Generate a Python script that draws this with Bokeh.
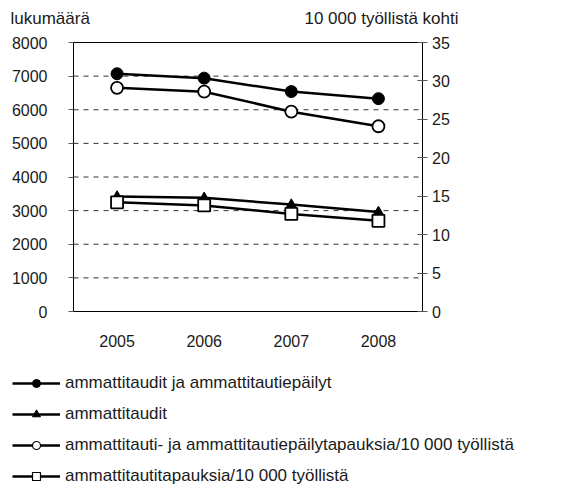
from bokeh.plotting import figure
from bokeh.models import (Range1d, LinearAxis, FixedTicker, Legend, LegendItem, Label)
from bokeh.embed import file_html
from bokeh.resources import INLINE

years = [2005, 2006, 2007, 2008]
# left axis (lukumäärä)
ammattitaudit_ja_epailyt = [7070, 6940, 6540, 6330]
ammattitaudit = [3420, 3380, 3180, 2960]
# right axis (10 000 työllistä kohti)
epailyt_per_10000 = [29.1, 28.6, 26.0, 24.1]
ammattitaudit_per_10000 = [14.2, 13.8, 12.7, 11.8]

left_ticks = [0, 1000, 2000, 3000, 4000, 5000, 6000, 7000, 8000]
right_ticks = [0, 5, 10, 15, 20, 25, 30, 35]
grid_ticks = left_ticks[1:-1]

labels = [
    "ammattitaudit ja ammattitautiepäilyt",
    "ammattitaudit",
    "ammattitauti- ja ammattitautiepäilytapauksia/10 000 työllistä",
    "ammattitautitapauksia/10 000 työllistä",
]

FONT = "Liberation Sans"
TXT = "#1a1a1a"

# canvas / plotting-area geometry (pixels)
W, H = 563, 489
PL, PR, PT, PB = 73.0, 421.5, 42.0, 311.0
X0, X1 = years[0] - 0.5, years[-1] + 0.5
LMAX, RMAX = left_ticks[-1], right_ticks[-1]

px_per_year = (PR - PL) / (X1 - X0)
x_start = X0 - PL / px_per_year
x_end = X1 + (W - PR) / px_per_year


def yrange(top):
    ppu = (PB - PT) / top
    return Range1d(-(H - PB) / ppu, top + PT / ppu)


p = figure(width=W, height=H,
           x_range=Range1d(x_start, x_end), y_range=yrange(LMAX),
           min_border=0, min_border_left=0, min_border_right=0,
           min_border_top=0, min_border_bottom=0,
           x_axis_type=None, y_axis_type=None,
           output_backend="svg", toolbar_location=None,
           background_fill_color="white", border_fill_color="white")
p.extra_y_ranges = {"right": yrange(RMAX)}
p.outline_line_color = None
p.xgrid.visible = False
p.ygrid.visible = False

# x axis at y = 0
xa = LinearAxis(ticker=FixedTicker(ticks=years), fixed_location=0,
                bounds=(X0, X1))
xa.major_tick_line_color = None
xa.minor_tick_line_color = None
xa.axis_line_color = "black"
xa.axis_line_width = 1
xa.major_label_standoff = 17
xa.major_label_text_font = FONT
xa.major_label_text_font_size = "16px"
xa.major_label_text_color = TXT
p.add_layout(xa, "below")

# left axis
ya = LinearAxis(ticker=FixedTicker(ticks=left_ticks), fixed_location=X0,
                bounds=(0, LMAX))
ya.major_tick_in = 0
ya.major_tick_out = 5
ya.minor_tick_line_color = None
ya.axis_line_color = "black"
ya.major_tick_line_color = "#555555"
ya.major_label_standoff = 21
ya.major_label_text_font = FONT
ya.major_label_text_font_size = "16px"
ya.major_label_text_color = TXT
p.add_layout(ya, "left")

# right axis
ra = LinearAxis(y_range_name="right", ticker=FixedTicker(ticks=right_ticks),
                fixed_location=X1, bounds=(0, RMAX))
ra.major_tick_in = 5
ra.major_tick_out = 5
ra.minor_tick_line_color = None
ra.axis_line_color = "black"
ra.major_tick_line_color = "#555555"
ra.major_label_standoff = 5
ra.major_label_text_font = FONT
ra.major_label_text_font_size = "16px"
ra.major_label_text_color = TXT
p.add_layout(ra, "right")

# dashed grid lines and solid top border
p.segment(x0=[X0] * len(grid_ticks), y0=grid_ticks,
          x1=[X1] * len(grid_ticks), y1=grid_ticks,
          line_color="#333333", line_dash="5 5", line_width=1)
p.segment(x0=[X0], y0=[LMAX], x1=[X1], y1=[LMAX],
          line_color="black", line_width=1)

LW = 2.5
l1 = p.line(years, ammattitaudit_ja_epailyt, line_color="black", line_width=LW)
l2 = p.line(years, ammattitaudit, line_color="black", line_width=LW)
l4 = p.line(years, ammattitaudit_per_10000, line_color="black", line_width=LW,
            y_range_name="right")
l3 = p.line(years, epailyt_per_10000, line_color="black", line_width=LW,
            y_range_name="right")

# smaller marker glyphs used by the legend (hidden below the plot markers)
LS = 7.5
g2 = p.scatter(years, ammattitaudit, marker="triangle", size=LS + 0.5,
               fill_color="black", line_color="black")
g4 = p.scatter(years, ammattitaudit_per_10000, marker="square", size=LS,
               fill_color="white", line_color="black", line_width=1.2,
               y_range_name="right")
g1 = p.scatter(years, ammattitaudit_ja_epailyt, marker="circle", size=LS + 0.5,
               fill_color="black", line_color="black")
g3 = p.scatter(years, epailyt_per_10000, marker="circle", size=LS,
               fill_color="white", line_color="black", line_width=1.2,
               y_range_name="right")

m2 = p.scatter(years, ammattitaudit, marker="triangle", size=10,
               fill_color="black", line_color="black")
m4 = p.scatter(years, ammattitaudit_per_10000, marker="square", size=12,
               fill_color="white", line_color="black", line_width=1.8,
               y_range_name="right")
m1 = p.scatter(years, ammattitaudit_ja_epailyt, marker="circle", size=12,
               fill_color="black", line_color="black")
m3 = p.scatter(years, epailyt_per_10000, marker="circle", size=12,
               fill_color="white", line_color="black", line_width=1.8,
               y_range_name="right")

legend = Legend(items=[
    LegendItem(label=labels[0], renderers=[l1, g1]),
    LegendItem(label=labels[1], renderers=[l2, g2]),
    LegendItem(label=labels[2], renderers=[l3, g3]),
    LegendItem(label=labels[3], renderers=[l4, g4]),
], location=(12, H - 486))
legend.glyph_width = 48
legend.glyph_height = 20
legend.label_height = 20
legend.spacing = 11
legend.padding = 0
legend.margin = 0
legend.label_standoff = 5
legend.border_line_color = None
legend.background_fill_alpha = 0
legend.label_text_font = FONT
legend.label_text_font_size = "17px"
legend.label_text_color = TXT
p.add_layout(legend, "center")

p.add_layout(Label(x=10, y=H - 18, x_units="screen", y_units="screen",
                   text="lukumäärä", text_font=FONT, text_font_size="17px",
                   text_color=TXT, text_align="left", text_baseline="middle"))
p.add_layout(Label(x=458, y=H - 18, x_units="screen", y_units="screen",
                   text="10 000 työllistä kohti", text_font=FONT,
                   text_font_size="17px", text_color=TXT,
                   text_align="right", text_baseline="middle"))

open("out.html", "w").write(file_html(p, INLINE))
